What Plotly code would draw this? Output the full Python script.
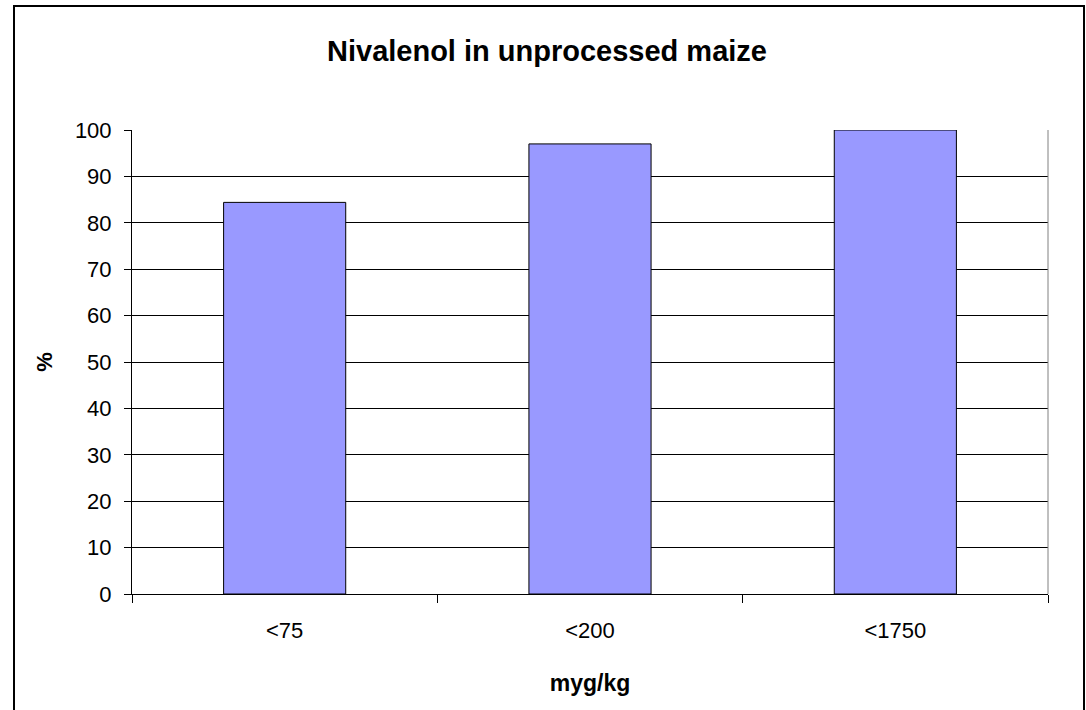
import plotly.graph_objects as go

categories = ["<75", "<200", "<1750"]
percent = [84.4, 97.0, 100.0]
y_ticks = list(range(0, 101, 10))

W, H = 1086, 710
L, R, T, B = 132, 38, 130, 116
plot_w = W - L - R
plot_h = H - T - B


def px_x(px):
    return (px - L) / plot_w


def px_y(py):
    return (H - B - py) / plot_h


font = "Liberation Sans, Arial, sans-serif"

fig = go.Figure()
fig.add_trace(
    go.Bar(
        x=categories,
        y=percent,
        marker={"color": "#9999FF", "line": {"color": "#000000", "width": 1}},
        hoverinfo="x+y",
    )
)

fig.update_layout(
    width=W,
    height=H,
    margin={"l": L, "r": R, "t": T, "b": B},
    paper_bgcolor="white",
    plot_bgcolor="white",
    bargap=0.6,
    showlegend=False,
    font={"family": font, "color": "#000000", "size": 22},
    title={
        "text": "<b>Nivalenol in unprocessed maize</b>",
        "x": 547 / W,
        "xanchor": "center",
        "y": 1 - 51 / H,
        "yanchor": "middle",
        "font": {"size": 29, "family": font},
    },
    shapes=[
        # outer chart frame
        dict(type="rect", xref="paper", yref="paper",
             x0=px_x(14), x1=px_x(1084), y0=px_y(715), y1=px_y(6),
             line={"color": "#000000", "width": 2}, fillcolor="rgba(0,0,0,0)", layer="below"),
        # right edge of plot area
        dict(type="line", xref="paper", yref="paper", x0=1, x1=1, y0=0, y1=1,
             line={"color": "#808080", "width": 1}),
    ],
)

fig.update_xaxes(
    type="category",
    showline=True,
    linecolor="#000000",
    linewidth=1,
    ticks="outside",
    tickson="boundaries",
    ticklen=8,
    tickcolor="#000000",
    showgrid=False,
    tickfont={"size": 22},
    ticklabelstandoff=17,
    title={"text": "<b>myg/kg</b>", "font": {"size": 23}, "standoff": 32},
)
fig.update_yaxes(
    range=[0, 100],
    tickvals=y_ticks,
    showline=True,
    linecolor="#000000",
    linewidth=1,
    ticks="outside",
    ticklen=7,
    tickcolor="#000000",
    showgrid=True,
    gridcolor="#000000",
    gridwidth=1,
    zeroline=False,
    tickfont={"size": 22},
    ticklabelstandoff=8,
    title={"text": "<b>%</b>", "font": {"size": 22}, "standoff": 16},
)

fig.write_html(
    "out.html",
    config={"displayModeBar": False},
    post_script="document.body.style.margin = '0';",
)
